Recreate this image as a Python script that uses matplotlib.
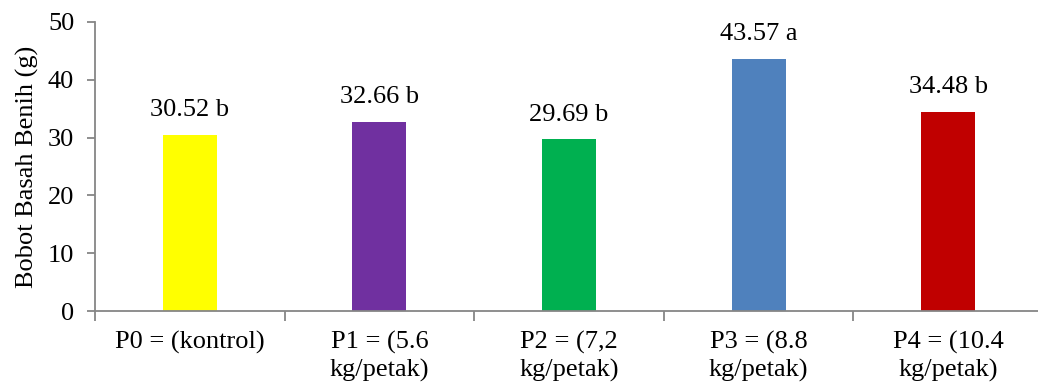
import matplotlib
matplotlib.use("Agg")
import matplotlib.pyplot as plt
import numpy as np

plt.rcParams['font.family'] = ['Liberation Serif', 'DejaVu Serif']

labels = ['P0 = (kontrol)', 'P1 = (5.6\nkg/petak)', 'P2 = (7,2\nkg/petak)',
          'P3 = (8.8\nkg/petak)', 'P4 = (10.4\nkg/petak)']
values = [30.52, 32.66, 29.69, 43.57, 34.48]
letters = ['b', 'b', 'b', 'a', 'b']
colors = ['#FFFF00', '#7030A0', '#00B050', '#4F81BD', '#C00000']

fs = 19

fig = plt.figure(figsize=(10.38, 3.85), dpi=100)
ax = fig.add_axes([95 / 1038, 1 - 311 / 385, (1043 - 95) / 1038, (311 - 22) / 385])

x = np.arange(len(values))
ax.bar(x, values, width=0.285, color=colors)
for xi, v, l in zip(x, values, letters):
    ax.text(xi, v + 2.4, f'{v:.2f} {l}', ha='center', va='bottom', fontsize=fs)

ax.set_xlim(-0.5, len(values) - 0.5)
ax.set_ylim(0, 50)
ax.set_yticks(range(0, 51, 10))
ax.set_xticks(x)
ax.set_xticklabels(labels, fontsize=fs, linespacing=1.3)
ax.tick_params(axis='x', length=0, pad=14)
ax.set_xticks(np.arange(-0.5, len(values)), minor=True)
ax.tick_params(axis='x', which='minor', length=7, color='#868686', width=1.3)
ax.tick_params(axis='y', labelsize=fs, length=6, color='#868686', width=1.3, pad=9)
ax.set_ylabel('Bobot Basah Benih (g)', fontsize=fs, labelpad=6)

for side in ['top', 'right']:
    ax.spines[side].set_visible(False)
for side in ['left', 'bottom']:
    ax.spines[side].set_color('#868686')
    ax.spines[side].set_linewidth(1.3)

fig.savefig('out.png', dpi=100)
